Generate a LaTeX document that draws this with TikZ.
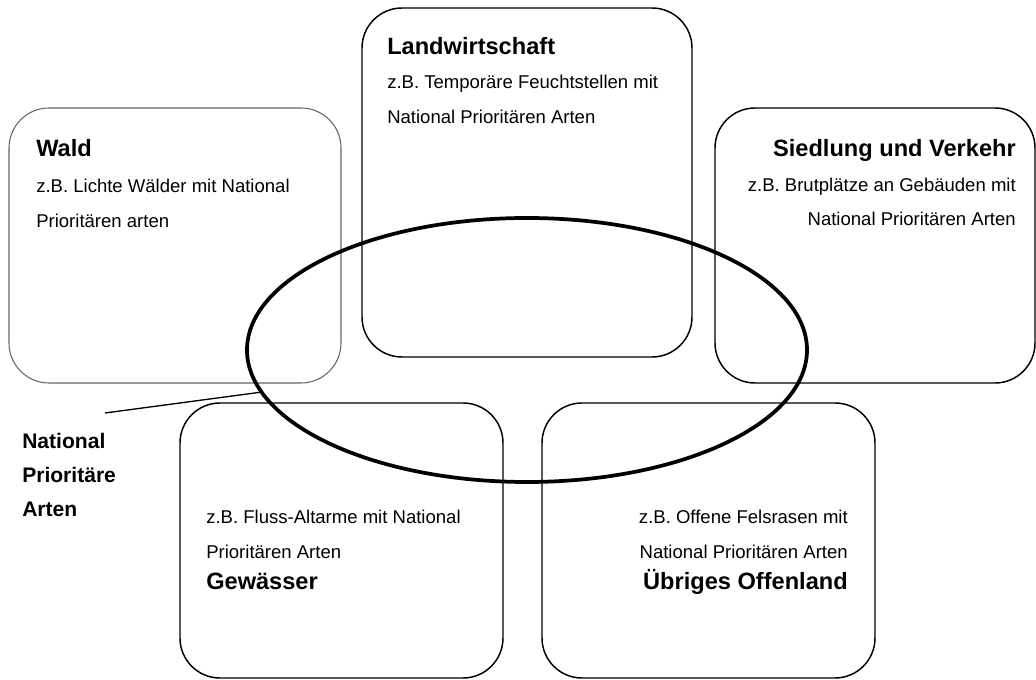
\documentclass[tikz,border=0pt]{standalone}
\usepackage{fontspec}
\setmainfont{Liberation Sans}
\usetikzlibrary{shapes.geometric}
\begin{document}
\begin{tikzpicture}[x=0.75pt,y=-0.75pt,
  box/.style={draw=black, line width=1.1pt, rounded corners=30pt, inner sep=0pt, rectangle},
  thinbox/.style={box, draw=black!60, line width=0.8pt},
  ttl/.style={font=\fontsize{17.7pt}{20pt}\selectfont\bfseries, inner sep=0pt},
  txt/.style={font=\fontsize{13.9pt}{16pt}\selectfont, inner sep=0pt},
  lbl/.style={font=\fontsize{15.8pt}{18pt}\selectfont\bfseries, inner sep=0pt, anchor=base west},
  ring/.style={draw=black, line width=2.8pt, ellipse, inner sep=0pt},
  pointer/.style={draw=black, line width=1pt}]
\useasboundingbox (0,0) rectangle (1036,680);

% boxes
\node[thinbox, minimum width=249pt, minimum height=206.25pt] (wald) at (175,245.5) {};
\node[box, minimum width=247.5pt, minimum height=261.75pt] (land) at (527,182.5) {};
\node[box, minimum width=240pt, minimum height=206.25pt] (sied) at (875,245.5) {};
\node[box, minimum width=242.25pt, minimum height=206.25pt] (gew) at (341.5,540.5) {};
\node[box, minimum width=249.75pt, minimum height=206.25pt] (off) at (708.5,540.5) {};

% Wald
\node[ttl, anchor=base west] (waldT) at (36,157) {Wald};
\node[txt, anchor=base west] (waldA) at (36,193) {z.B. Lichte Wälder mit National};
\node[txt, anchor=base west] (waldB) at (36,228) {Prioritären arten};

% Landwirtschaft
\node[ttl, anchor=base west] (landT) at (387,55) {Landwirtschaft};
\node[txt, anchor=base west] (landA) at (387,89) {z.B. Temporäre Feuchtstellen mit};
\node[txt, anchor=base west] (landB) at (387,124) {National Prioritären Arten};

% Siedlung und Verkehr
\node[ttl, anchor=base east] (siedT) at (1016,157) {Siedlung und Verkehr};
\node[txt, anchor=base east] (siedA) at (1016,192) {z.B. Brutplätze an Gebäuden mit};
\node[txt, anchor=base east] (siedB) at (1016,226) {National Prioritären Arten};

% Gewässer
\node[txt, anchor=base west] (gewA) at (206,524) {z.B. Fluss-Altarme mit National};
\node[txt, anchor=base west] (gewB) at (206,559) {Prioritären Arten};
\node[ttl, anchor=base west] (gewT) at (206,590) {Gewässer};

% Übriges Offenland
\node[txt, anchor=base east] (offA) at (848,524) {z.B. Offene Felsrasen mit};
\node[txt, anchor=base east] (offB) at (848,559) {National Prioritären Arten};
\node[ttl, anchor=base east] (offT) at (848,590) {Übriges Offenland};

% ellipse
\node[ring, minimum width=420pt, minimum height=198pt] (np) at (527,350) {};

% label and pointer
\node[lbl] (npA) at (22,449) {National};
\node[lbl] (npB) at (22,483) {Prioritäre};
\node[lbl] (npC) at (22,517) {Arten};
\coordinate (ptr) at (105,413);
\draw[pointer] (ptr) -- (np.189);
\end{tikzpicture}
\end{document}
